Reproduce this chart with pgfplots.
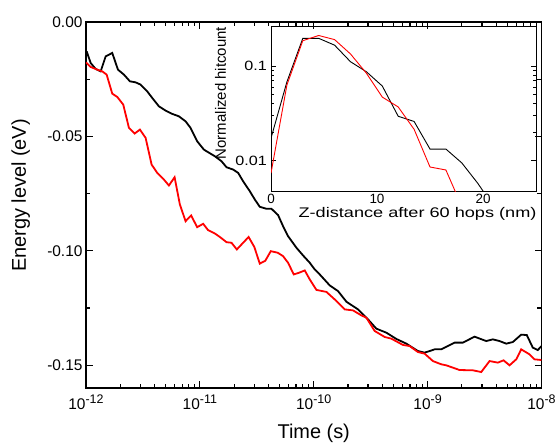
\documentclass[border=0pt]{standalone}
\usepackage{fontspec}
\setmainfont{Liberation Sans}
\usepackage{pgfplots}
\pgfplotsset{compat=1.18}
\newcommand{\tsup}[1]{10\raisebox{0.42em}{\fontsize{12.5}{14}\selectfont #1}}
\begin{document}
\begin{tikzpicture}
\useasboundingbox (-86bp,-55bp) rectangle (470bp,388bp);
\begin{axis}[
  at={(0,0)}, anchor=south west,
  scale only axis, width=455.5bp, height=366bp,
  xmode=log, xmin=1e-12, xmax=1e-8,
  ymin=-0.16, ymax=0,
  xtick={1e-12,1e-11,1e-10,1e-9,1e-8},
  xticklabels={\tsup{-12},\tsup{-11},\tsup{-10},\tsup{-9},\tsup{-8}},
  ytick={-0.15,-0.1,-0.05,0},
  minor y tick num=1,
  /pgf/number format/assume math mode=true,
  yticklabel style={/pgf/number format/.cd, fixed, fixed zerofill, precision=2, assume math mode=true},
  xticklabel style={yshift=-3bp},
  tick align=inside,
  major tick length=7bp, minor tick length=4bp,
  axis line style={line width=1.4bp},
  every tick/.style={line width=1.2bp, black},
  tick label style={font=\fontsize{15.5}{18}\selectfont},
  xlabel={Time (s)}, ylabel={Energy level (eV)},
  label style={font=\fontsize{20}{24}\selectfont},
  xlabel style={at={(axis description cs:0.5,-0.123)}, anchor=center},
  ylabel style={at={(axis description cs:-0.143,0.526)}, anchor=center},
]
\addplot[black, line width=1.8bp] table {
x y
1.014e-12 -0.01284
1.099e-12 -0.01790
1.216e-12 -0.02052
1.346e-12 -0.02157
1.489e-12 -0.01502
1.701e-12 -0.01354
1.909e-12 -0.02083
2.154e-12 -0.02301
2.432e-12 -0.02594
2.729e-12 -0.02638
3.018e-12 -0.02738
3.450e-12 -0.03031
3.816e-12 -0.03319
4.369e-12 -0.03686
5.002e-12 -0.03873
5.715e-12 -0.04017
6.543e-12 -0.04122
7.491e-12 -0.04341
8.286e-12 -0.04629
9.469e-12 -0.05214
1.084e-11 -0.05576
1.145e-11 -0.05651
1.354e-11 -0.05869
1.550e-11 -0.06087
1.715e-11 -0.06350
1.959e-11 -0.06450
2.168e-11 -0.06594
2.398e-11 -0.06961
2.746e-11 -0.07397
3.038e-11 -0.07760
3.360e-11 -0.08079
3.847e-11 -0.08166
4.255e-11 -0.08166
4.863e-11 -0.08441
5.378e-11 -0.08926
5.951e-11 -0.09362
7.049e-11 -0.09869
8.055e-11 -0.10205
9.225e-11 -0.10524
1.020e-10 -0.10817
1.129e-10 -0.11035
1.382e-10 -0.11515
1.634e-10 -0.11764
1.936e-10 -0.12227
2.447e-10 -0.12564
2.995e-10 -0.13000
3.548e-10 -0.13406
4.342e-10 -0.13581
5.314e-10 -0.13856
6.506e-10 -0.14061
8.222e-10 -0.14384
9.412e-10 -0.14454
1.041e-9 -0.14384
1.152e-9 -0.14310
1.319e-9 -0.14310
1.507e-9 -0.14166
1.725e-9 -0.14017
2.040e-9 -0.14017
2.584e-9 -0.13756
3.272e-9 -0.13948
3.740e-9 -0.13873
4.281e-9 -0.13948
4.902e-9 -0.14061
5.602e-9 -0.13991
6.636e-9 -0.13668
7.431e-9 -0.13686
8.389e-9 -0.14236
9.280e-9 -0.14341
1.000e-8 -0.14166
};
\addplot[red, line width=1.8bp] table {
x y
1.000e-12 -0.01764
1.099e-12 -0.01965
1.256e-12 -0.02083
1.390e-12 -0.02157
1.519e-12 -0.02301
1.701e-12 -0.03131
1.882e-12 -0.03275
2.124e-12 -0.03611
2.384e-12 -0.04629
2.674e-12 -0.04878
2.976e-12 -0.04703
3.340e-12 -0.05066
3.770e-12 -0.06232
4.221e-12 -0.06594
4.833e-12 -0.06887
5.348e-12 -0.07148
6.000e-12 -0.06786
6.676e-12 -0.07978
7.491e-12 -0.08707
8.389e-12 -0.08459
9.469e-12 -0.08970
1.069e-11 -0.08821
1.182e-11 -0.09100
1.354e-11 -0.09245
1.498e-11 -0.09397
1.715e-11 -0.09625
1.897e-11 -0.09651
2.112e-11 -0.09943
2.680e-11 -0.09397
3.007e-11 -0.09834
3.360e-11 -0.10563
3.755e-11 -0.10437
4.196e-11 -0.10018
4.833e-11 -0.10087
5.378e-11 -0.10236
5.951e-11 -0.10524
6.676e-11 -0.11035
7.431e-11 -0.10961
8.338e-11 -0.10860
9.225e-11 -0.11253
1.056e-10 -0.11712
1.292e-10 -0.11799
1.528e-10 -0.12127
1.870e-10 -0.12564
2.212e-10 -0.12607
2.620e-10 -0.12825
2.899e-10 -0.12926
3.428e-10 -0.13507
4.196e-10 -0.13769
4.804e-10 -0.13843
6.073e-10 -0.14118
6.952e-10 -0.14166
8.222e-10 -0.14428
9.412e-10 -0.14498
1.113e-9 -0.14822
1.319e-9 -0.14965
1.459e-9 -0.15009
1.909e-9 -0.15214
2.497e-9 -0.15227
2.958e-9 -0.15302
3.499e-9 -0.14822
4.139e-9 -0.14891
4.642e-9 -0.14790
5.242e-9 -0.15009
6.000e-9 -0.14747
6.636e-9 -0.14310
7.846e-9 -0.14528
8.681e-9 -0.14747
1.000e-8 -0.14777
};
\end{axis}
\begin{axis}[
  at={(185bp,197bp)}, anchor=south west,
  scale only axis, width=265bp, height=164.3bp,
  xmin=0, xmax=25, ymode=log, ymin=0.0048, ymax=0.26,
  xtick={0,10,20}, ytick={0.01,0.1}, yticklabels={0.01,0.1},
  /pgf/number format/assume math mode=true,
  xtick style={draw=none},
  tick align=inside, major tick length=5bp, minor tick length=3bp,
  axis line style={line width=0.9bp},
  every tick/.style={line width=0.7bp, black},
  tick label style={font=\fontsize{13.5}{16}\selectfont},
  yticklabel style={xscale=1.2},
  xlabel={Z-distance after 60 hops (nm)},
  ylabel={Normalized hitcount},
  xlabel style={font=\fontsize{14}{16}\selectfont, xscale=1.3, at={(axis description cs:0.553,-0.14)}, anchor=center},
  ylabel style={font=\fontsize{15}{18}\selectfont, at={(axis description cs:-0.19,0.596)}, anchor=center},
]
\addplot[black, line width=0.9bp] table {
x y
0 0.0173
1.5 0.068
3 0.196
4.5 0.196
6 0.166
7.5 0.111
9 0.087
10.5 0.0615
12 0.0295
13.5 0.026
15 0.0133
16.5 0.0133
18 0.0095
19.5 0.0058
21 0.0033
};
\addplot[red, line width=0.9bp] table {
x y
0 0.0074
1.5 0.063
3 0.185
4.5 0.21
6 0.19
7.5 0.134
9 0.084
10.5 0.047
12 0.037
13.5 0.0215
15 0.0086
16.5 0.008
18 0.0033
};
\end{axis}
\end{tikzpicture}
\end{document}
